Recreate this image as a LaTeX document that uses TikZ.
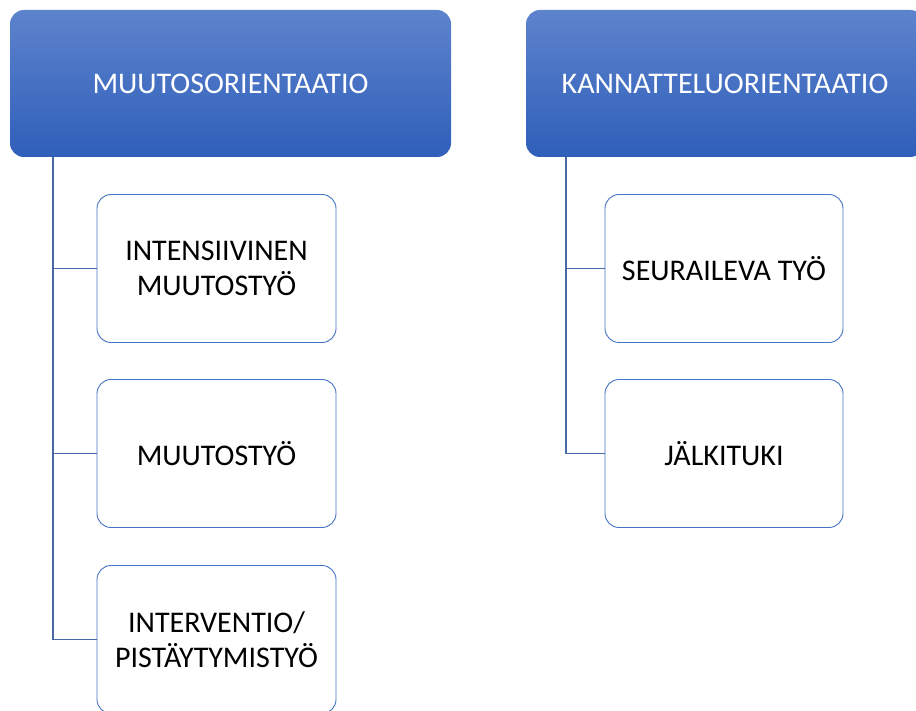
\documentclass[tikz,border=0pt]{standalone}
\usepackage{fontspec}
\setmainfont{Carlito}
\definecolor{hdtop}{RGB}{93,131,204}
\definecolor{hdbot}{RGB}{47,95,186}
\definecolor{boxedge}{RGB}{68,114,196}
\definecolor{treeline}{RGB}{72,104,166}

\begin{document}
\begin{tikzpicture}[x=1pt,y=-1pt,
    head/.style={rectangle,rounded corners=14pt,top color=hdtop,bottom color=hdbot,
      text=white,minimum height=147pt,inner sep=0pt,align=center,
      font=\fontsize{30}{35}\selectfont},
    item/.style={rectangle,rounded corners=14pt,draw=boxedge,line width=0.9pt,fill=white,
      minimum width=239pt,minimum height=148pt,inner sep=0pt,align=center,text=black,
      font=\fontsize{30}{35}\selectfont},
    tree/.style={draw=treeline,line width=1.1pt}
  ]
  \useasboundingbox (0,0) rectangle (916,711);

  % orientations
  \node[head,minimum width=441pt] (muutos) at (230.5,83.5) {MUUTOSORIENTAATIO};
  \node[head,minimum width=398pt] (kannat) at (725,83.5) {KANNATTELUORIENTAATIO};

  % work forms, left
  \node[item] (intens) at (216.5,268.5) {INTENSIIVINEN\\MUUTOSTYÖ};
  \node[item] (mtyo) at (216.5,453.5) {MUUTOSTYÖ};
  \node[item] (interv) at (216.5,639.5) {INTERVENTIO/\\PISTÄYTYMISTYÖ};

  % work forms, right
  \node[item,minimum width=238pt] (seur) at (724,268.5) {SEURAILEVA TYÖ};
  \node[item,minimum width=238pt] (jalki) at (724,453.5) {JÄLKITUKI};

  % tree lines
  \coordinate (mroot) at (53,157);
  \coordinate (kroot) at (566,157);
  \draw[tree] (mroot) |- (intens.west);
  \draw[tree] (mroot) |- (mtyo.west);
  \draw[tree] (mroot) |- (interv.west);
  \draw[tree] (kroot) |- (seur.west);
  \draw[tree] (kroot) |- (jalki.west);
\end{tikzpicture}
\end{document}
